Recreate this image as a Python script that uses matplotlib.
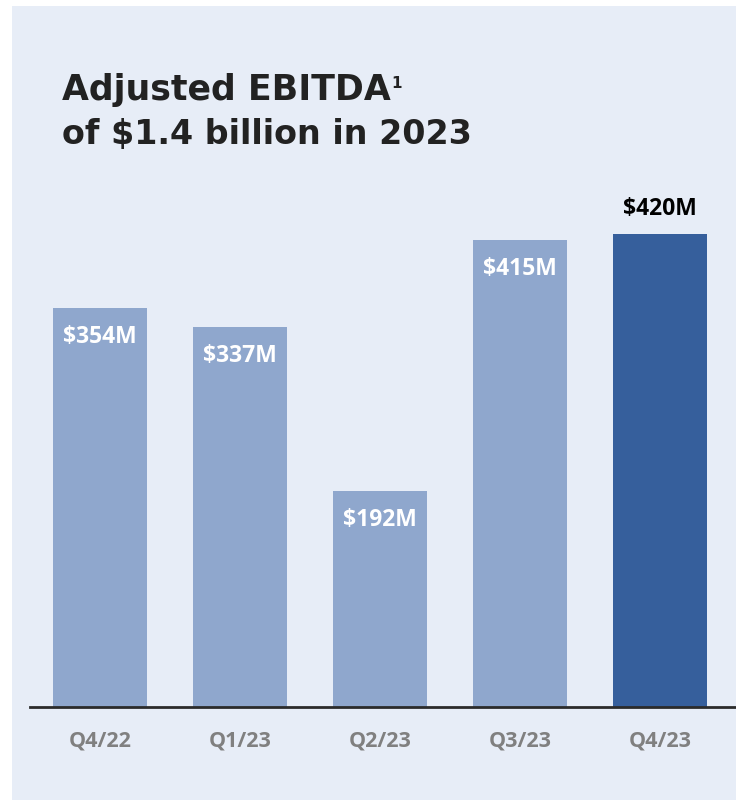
import matplotlib.pyplot as plt
from matplotlib.patches import Rectangle

quarters = ['Q4/22', 'Q1/23', 'Q2/23', 'Q3/23', 'Q4/23']
ebitda = [354, 337, 192, 415, 420]
labels = ['$354M', '$337M', '$192M', '$415M', '$420M']

W, H = 736, 800
fig = plt.figure(figsize=(W / 100, H / 100), dpi=100)
fig.patch.set_facecolor('white')

# light panel behind everything
fig.patches.append(Rectangle((12 / W, 0), 1 - 12 / W, 1 - 6 / H,
                             transform=fig.transFigure, facecolor='#E7EDF7',
                             edgecolor='none', zorder=-10))

ax_left, ax_bottom, ax_top = 30, 707, 180
ax = fig.add_axes([ax_left / W, (H - ax_bottom) / H, (W - ax_left) / W,
                   (ax_bottom - ax_top) / H])
ax.set_facecolor('none')

px_per_unit = 707 - 234  # pixels for 420
scale = px_per_unit / 420.0
ax.set_ylim(0, (ax_bottom - ax_top) / scale)
ax.set_xlim(-0.5, -0.5 + (W - ax_left) / 140.0)

colors = ['#8FA7CD'] * 4 + ['#365F9C']
ax.bar(range(len(quarters)), ebitda, width=94 / 140.0, color=colors, zorder=2)

for i, (v, lab) in enumerate(zip(ebitda, labels)):
    if i == len(ebitda) - 1:
        ax.text(i, v + 25 / scale, lab, ha='center', va='center',
                fontsize=16.5, fontweight='bold', family='Open Sans', color='black')
    else:
        ax.text(i, v - 29 / scale, lab, ha='center', va='center',
                fontsize=16.5, fontweight='bold', family='Open Sans', color='white')

for s in ['top', 'right', 'left']:
    ax.spines[s].set_visible(False)
ax.spines['bottom'].set_color('#2B2B2B')
ax.spines['bottom'].set_linewidth(2)
ax.set_yticks([])
ax.set_xticks(range(len(quarters)))
ax.set_xticklabels(quarters, fontsize=15.5, fontweight='bold', family='Open Sans',
                   color='#808080')
ax.tick_params(axis='x', length=0, pad=17)

t1 = fig.text(62 / W, 1 - 100 / H, 'Adjusted EBITDA', fontsize=25,
              fontweight='bold', color='#222222', va='baseline')
fig.text(62 / W, 1 - 144 / H, 'of $1.4 billion in 2023', fontsize=24,
         fontweight='bold', color='#222222', va='baseline')
fig.canvas.draw()
bb = t1.get_window_extent()
fig.text(bb.x1 / W + 1 / W, 1 - 88 / H, '1', fontsize=11, fontweight='bold',
         color='#222222', va='baseline')

fig.savefig('out.png', dpi=100, facecolor=fig.get_facecolor())
